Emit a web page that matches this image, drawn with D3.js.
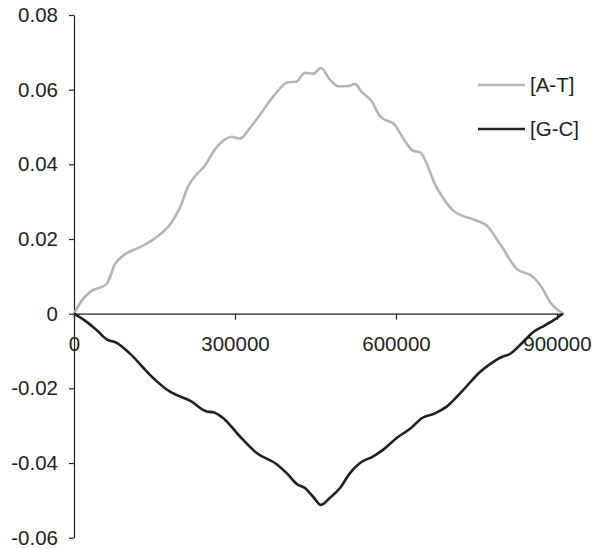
<!DOCTYPE html>
<html>
<head>
<meta charset="utf-8">
<script src="https://cdn.jsdelivr.net/npm/d3@7"></script>
<style>
  html, body { margin: 0; padding: 0; background: #fff; }
  svg { display: block; font-family: "Liberation Sans", Arial, sans-serif; }
  .axis path, .axis line { stroke: #231f20; stroke-width: 1.2; }
  .axis text { font-size: 20.5px; fill: #231f20; }
  .legend-label { font-size: 20.5px; fill: #231f20; }
</style>
</head>
<body>
<div id="chart"></div>
<script>
// positions along the genome (bp) and cumulative skews
const atPos = [0, 14300, 29800, 61000, 76400, 91900, 123000, 151000, 182000, 197500,
  213000, 228600, 242000, 262700, 281400, 293800, 309300, 328000, 346600, 371400,
  399400, 413700, 430400, 446000, 460300, 477000, 492500, 508000, 523600, 536000,
  554700, 570200, 598000, 616800, 631000, 644700, 675800, 706800, 750400, 769000,
  793800, 825000, 856000, 871500, 887000, 912000];
const atSkew = [0, 0.0035, 0.0058, 0.008, 0.0133, 0.0156, 0.0178, 0.0202, 0.0245, 0.0284,
  0.0342, 0.0373, 0.0393, 0.044, 0.0467, 0.0474, 0.0469, 0.0498, 0.0533, 0.0582,
  0.062, 0.0621, 0.0645, 0.0643, 0.0658, 0.0627, 0.0609, 0.0609, 0.0615, 0.0594,
  0.0569, 0.0529, 0.0505, 0.0462, 0.0437, 0.0432, 0.0338, 0.0276, 0.0249, 0.0236,
  0.0187, 0.012, 0.0098, 0.0071, 0.0031, 0];

const gcPos = [0, 23600, 42300, 61000, 79600, 104400, 141600, 178900, 191400, 216200,
  247300, 259600, 278300, 309300, 340400, 377700, 396300, 415000, 430400, 446000,
  460300, 477000, 495700, 514300, 533000, 557700, 576400, 601300, 629200, 647900,
  672700, 694400, 725500, 756600, 775200, 797000, 812500, 831100, 856000, 877700,
  893200, 910600];
const gcSkew = [0, -0.0022, -0.0044, -0.0069, -0.0078, -0.0107, -0.0164, -0.0209, -0.0218, -0.0233,
  -0.0262, -0.0264, -0.028, -0.0329, -0.0373, -0.0403, -0.0427, -0.0456, -0.0467, -0.0491,
  -0.0512, -0.0493, -0.0467, -0.0427, -0.04, -0.0382, -0.0364, -0.0333, -0.0305, -0.028,
  -0.0267, -0.0249, -0.0204, -0.0156, -0.0135, -0.0116, -0.0108, -0.0084, -0.0049, -0.0031,
  -0.0018, 0];

const xTicks = [0, 300000, 600000, 900000];
const yTicks = [-0.06, -0.04, -0.02, 0, 0.02, 0.04, 0.06, 0.08];
const yTickLabels = ["-0.06", "-0.04", "-0.02", "0", "0.02", "0.04", "0.06", "0.08"];

const seriesNames = ["[A-T]", "[G-C]"];
const seriesColors = ["#b5b5b5", "#231f20"];

const width = 595, height = 549;

const x = d3.scaleLinear().domain([0, 912000]).range([74, 563.4]);
const y = d3.scaleLinear().domain([-0.06, 0.08]).range([537.7, 15]);

const svg = d3.select("#chart").append("svg")
  .attr("width", width)
  .attr("height", height);

svg.append("g")
  .attr("class", "axis")
  .attr("transform", `translate(${x(0)},0)`)
  .call(d3.axisLeft(y)
    .tickValues(yTicks)
    .tickFormat((d, i) => yTickLabels[i])
    .tickSize(5)
    .tickSizeOuter(0)
    .tickPadding(11));

svg.append("g")
  .attr("class", "axis")
  .attr("transform", `translate(0,${y(0)})`)
  .call(d3.axisBottom(x)
    .tickValues(xTicks)
    .tickFormat(d3.format("d"))
    .tickSize(6)
    .tickSizeOuter(0)
    .tickPadding(17));

const line = d3.line()
  .x((d) => x(d[0]))
  .y((d) => y(d[1]))
  .curve(d3.curveMonotoneX);

const series = [
  d3.zip(atPos, atSkew),
  d3.zip(gcPos, gcSkew)
];

series.forEach((pts, i) => {
  svg.append("path")
    .datum(pts)
    .attr("fill", "none")
    .attr("stroke", seriesColors[i])
    .attr("stroke-width", 2.6)
    .attr("stroke-linejoin", "round")
    .attr("d", line);
});

// legend
const legend = svg.append("g");
seriesNames.forEach((name, i) => {
  const ly = 85 + i * 44;
  legend.append("line")
    .attr("x1", 478).attr("x2", 525)
    .attr("y1", ly).attr("y2", ly)
    .attr("stroke", seriesColors[i])
    .attr("stroke-width", 2.6);
  legend.append("text")
    .attr("class", "legend-label")
    .attr("x", 530)
    .attr("y", ly)
    .attr("dy", "0.35em")
    .text(name);
});
</script>
</body>
</html>
